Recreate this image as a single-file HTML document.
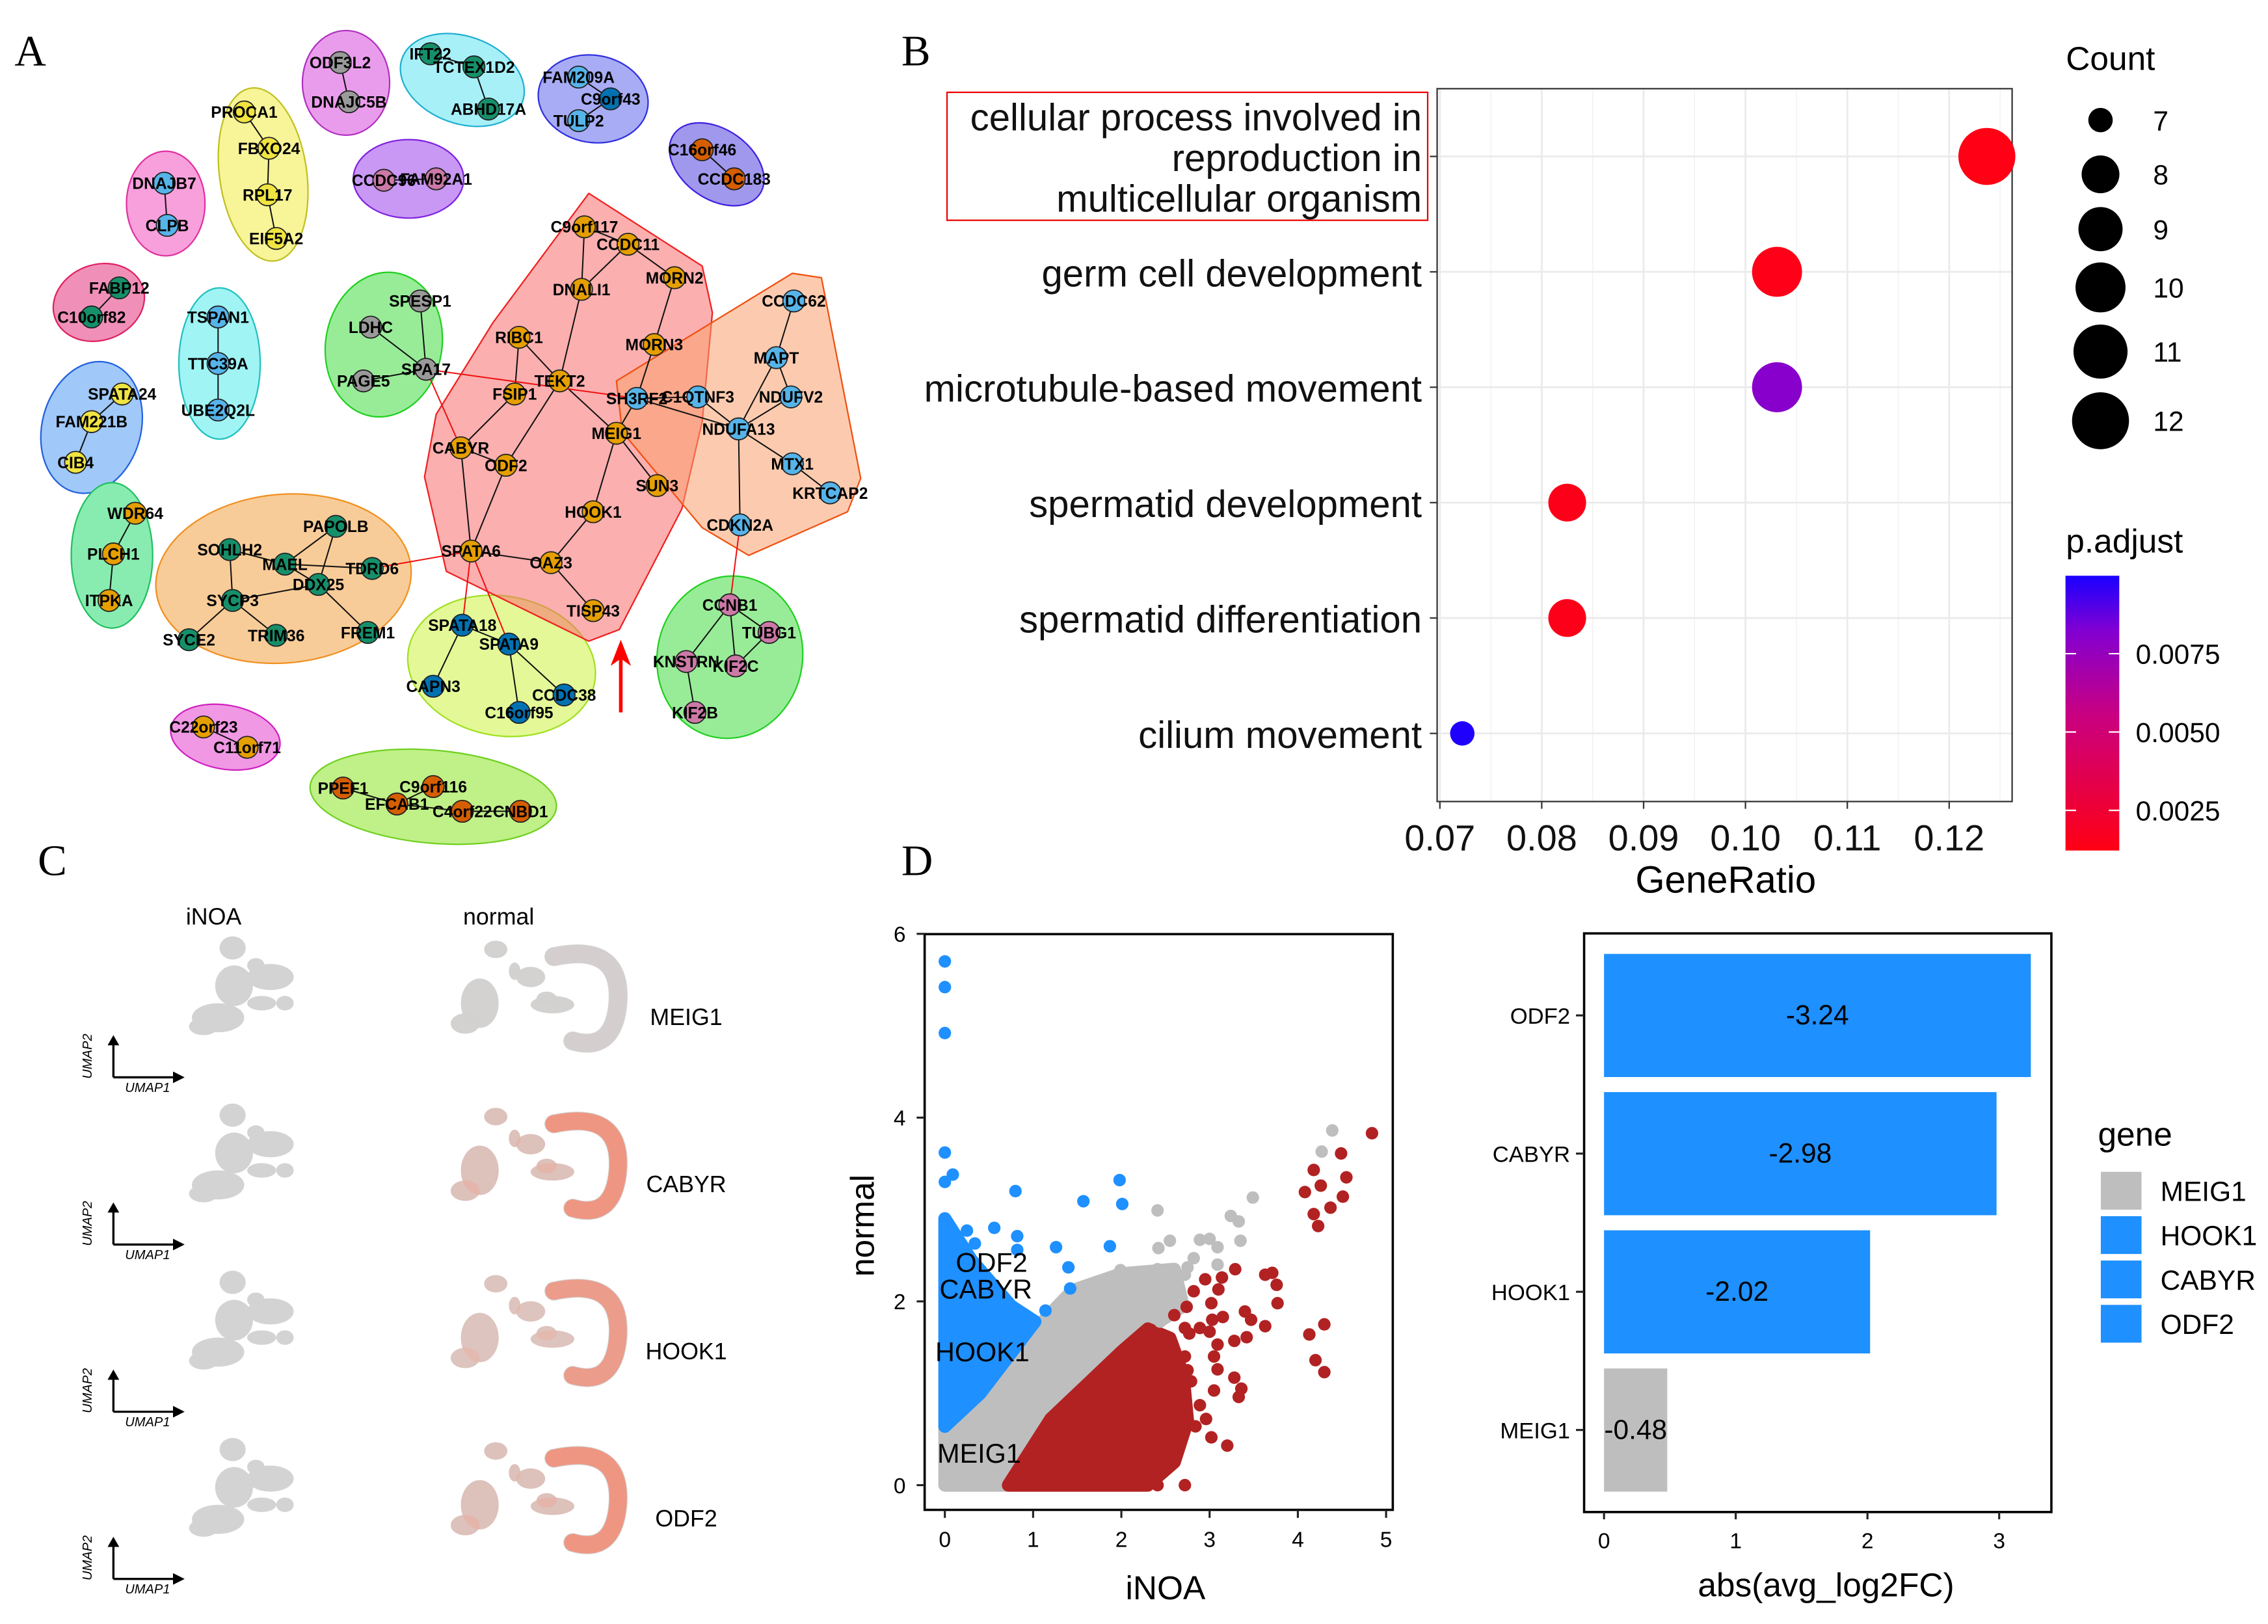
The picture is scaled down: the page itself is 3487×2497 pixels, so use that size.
<!DOCTYPE html>
<html><head><meta charset="utf-8"><style>
html,body{margin:0;padding:0;background:#fff}
svg{display:block}
text{font-family:"Liberation Sans",sans-serif}
</style></head><body>
<svg id="figroot" xmlns="http://www.w3.org/2000/svg" width="3487" height="2497" viewBox="0 0 1560 1117" preserveAspectRatio="none">
<rect width="1560" height="1117" fill="#fff"/>
<defs><linearGradient id="pgrad" x1="0" y1="1" x2="0" y2="0"><stop offset="0" stop-color="rgb(255,0,20)"/><stop offset="0.5" stop-color="rgb(200,0,130)"/><stop offset="0.8" stop-color="rgb(130,0,210)"/><stop offset="1" stop-color="rgb(25,0,255)"/></linearGradient></defs>
<g id="gNet"></g>
<g id="gDot"></g>
<g id="gUmap"></g>
<g id="gSc"></g>
<g id="gBar"></g>
<text x="10" y="45" font-size="30" style="font-family:'Liberation Serif',serif">A</text>
<text x="620" y="45" font-size="30" style="font-family:'Liberation Serif',serif">B</text>
<text x="26" y="602" font-size="30" style="font-family:'Liberation Serif',serif">C</text>
<text x="620" y="602" font-size="30" style="font-family:'Liberation Serif',serif">D</text>
</svg>
<script>
var SVGNS="http://www.w3.org/2000/svg";
function mk(p,tag,a,txt){
  var e=document.createElementNS(SVGNS,tag);
  for(var k in a){ e.setAttribute(k,String(a[k])); }
  if(txt!==undefined){ e.textContent=txt; }
  p.appendChild(e);
  return e;
}

/* ---------- Panel B data ---------- */
var goTerms=[["cellular process involved in","reproduction in","multicellular organism"],["germ cell development"],["microtubule-based movement"],["spermatid development"],["spermatid differentiation"],["cilium movement"]];
var goRatio=[0.1237,0.1031,0.1031,0.0825,0.0825,0.0722];
var goCount=[12,10,10,8,8,7];
var goPadj=[0.0012,0.0013,0.0080,0.0014,0.0014,0.0099];
var xTicksB=[0.07,0.08,0.09,0.10,0.11,0.12];
var cntLegend=[7,8,9,10,11,12];
var padjTicks=[0.0025,0.0050,0.0075];

/* ---------- Panel D scatter data ---------- */
var blueX=[0,0,0,0,0.09,0,0.8,1.57,1.98,2.01,0.25,0.56,0.82,1.26,1.87,1.4,1.42,1.14,0.34,0.82];
var blueY=[5.70,5.42,4.92,3.62,3.38,3.30,3.20,3.09,3.32,3.06,2.77,2.80,2.71,2.59,2.60,2.37,2.14,1.90,2.63,2.56];
var grayX=[2.41,3.49,3.24,3.33,2.55,2.42,2.89,3.0,3.09,3.35,2.82,2.75,3.09,2.41,1.99,2.11,2.41,2.58,2.55,4.39,4.27,1.17,2.44,2.72];
var grayY=[2.99,3.13,2.93,2.87,2.66,2.58,2.67,2.68,2.59,2.66,2.47,2.37,2.40,2.35,2.34,2.24,2.15,2.24,2.06,3.86,3.63,1.82,1.78,2.29];
var redX=[4.84,4.49,4.18,4.55,4.26,4.08,4.51,4.37,4.18,4.23,3.29,3.63,3.71,3.76,3.77,2.95,3.14,3.1,2.82,2.74,3.02,2.6,3.4,3.47,3.63,3.15,3.03,2.89,3.0,2.72,2.77,4.3,4.13,3.42,3.28,3.09,4.2,4.3,3.05,3.09,2.72,2.75,2.79,3.28,3.36,3.33,3.05,2.89,2.96,2.84,3.02,3.2,2.72,2.41,2.13,1.95,1.68,2.55,2.41,2.62];
var redY=[3.83,3.61,3.43,3.35,3.26,3.19,3.14,3.02,2.95,2.82,2.35,2.29,2.31,2.18,1.98,2.24,2.26,2.13,2.11,1.94,1.98,1.85,1.89,1.80,1.73,1.83,1.80,1.71,1.67,1.71,1.65,1.75,1.64,1.61,1.57,1.53,1.36,1.23,1.40,1.26,1.40,1.25,1.13,1.17,1.05,0.96,1.03,0.87,0.72,0.64,0.52,0.43,0.0,0.0,0.15,0.12,0.0,0.76,0.52,0.97];
var blueMass=[[0,0.64],[0,2.9],[0.3,2.45],[0.75,1.95],[1.02,1.78],[0.4,1.0]];
var grayMass=[[0,0],[0,0.64],[1.0,1.67],[1.45,2.12],[2.0,2.3],[2.6,2.35],[2.7,1.95],[2.3,1.7],[1.2,0.72],[0.7,0]];
var redMass=[[0.72,0],[1.2,0.72],[2.0,1.45],[2.3,1.7],[2.55,1.6],[2.7,1.2],[2.75,0.7],[2.6,0.25],[2.3,0]];
var scTicksX=[0,1,2,3,4,5];
var scTicksY=[0,2,4,6];
var scLabels=[["ODF2",0.124,2.32],["CABYR",-0.06,2.03],["HOOK1",-0.108,1.35],["MEIG1",-0.085,0.245]];

/* ---------- Panel D bar data ---------- */
var barGenes=["ODF2","CABYR","HOOK1","MEIG1"];
var barVals=[3.24,2.98,2.02,0.48];
var barLabels=["-3.24","-2.98","-2.02","-0.48"];
var barColor=["#1E90FF","#1E90FF","#1E90FF","#BEBEBE"];
var barTicks=[0,1,2,3];
var legendGenes=["MEIG1","HOOK1","CABYR","ODF2"];
var legendCols=["#BEBEBE","#1E90FF","#1E90FF","#1E90FF"];

/* ---------- Panel A ---------- */
function drawA(){
var P=document.getElementById('gNet');
var CL={o:"#E69F00",t:"#16906A",l:"#56B4E9",g:"#9A9A9A",y:"#F0E442",p:"#CC79A7",d:"#0072B2",r:"#D55E00"};
var hullsE=[[238,57,30,36,0,"#EA9CEC","#B030C0"],[318,55,44,30,20,"#A8F0F8","#20B0D0"],[408,68,38,30,10,"#A8ACF4","#3030E0"],[493,113,36,24,35,"#A098EC","#4020E0"],[281,123,38,27,0,"#C898F4","#8020E0"],[181,120,30,60,-8,"#F8F498","#C0C020"],[114,140,27,36,0,"#F8A0DC","#E030A0"],[68,208,32,26,-20,"#F090B8","#E02060"],[151,250,28,52,0,"#A0F4F4","#20C0C0"],[63,294,34,46,15,"#A0C8F8","#2060E0"],[77,382,28,50,0,"#88ECB0","#20C060"],[264,237,40,50,10,"#98EC98","#20D020"],[195,398,88,58,-5,"#F8CC98","#F09020"],[345,458,65,48,10,"#E4F898","#A0E020"],[502,452,50,56,10,"#98EC98","#20D020"],[155,507,38,22,10,"#F098E4","#D020C0"],[298,548,85,32,5,"#C0F088","#70D020"]];
hullsE.forEach(function(h){
  var e=mk(P,'ellipse',{cx:h[0],cy:h[1],rx:h[2],ry:h[3],transform:'rotate('+h[4]+' '+h[0]+' '+h[1]+')',fill:h[5],stroke:h[6],'stroke-width':1});
  
  
});
var hullP=[[[[405,133],[483,183],[490,215],[483,290],[469,350],[426,433],[405,441],[307,393],[292,328],[300,285],[339,222]],"rgba(248,110,110,0.55)","#F02020"],
 [[[424,262],[545,188],[565,191],[592,329],[583,352],[515,382],[483,363],[428,297]],"rgba(250,160,110,0.55)","#F05010"]];
hullP.forEach(function(h){
  var e=mk(P,'polygon',{points:h[0].map(function(p){return p.join(',');}).join(' '),fill:h[1],stroke:h[2],'stroke-width':1,'stroke-linejoin':'round'});
  
  
});
var nodes={ODF3L2:[234,43,'g'],DNAJC5B:[240,70,'g'],IFT22:[296,37,'t'],TCTEX1D2:[326,46,'t'],ABHD17A:[336,75,'t'],FAM209A:[398,53,'l'],C9orf43:[420,68,'d'],TULP2:[398,83,'l'],C16orf46:[483,103,'r'],CCDC183:[505,123,'r'],CCDC96:[264,124,'p'],FAM92A1:[300,123,'p'],
PROCA1:[168,77,'y'],FBXO24:[185,102,'y'],RPL17:[184,134,'y'],EIF5A2:[190,164,'y'],DNAJB7:[113,126,'l'],CLPB:[115,155,'l'],FABP12:[82,198,'t'],C10orf82:[63,218,'t'],TSPAN1:[150,218,'l'],TTC39A:[150,250,'l'],UBE2Q2L:[150,282,'l'],SPATA24:[84,271,'y'],FAM221B:[63,290,'y'],CIB4:[52,318,'y'],
SPESP1:[289,207,'g'],LDHC:[255,225,'g'],SPA17:[293,254,'g'],PAGE5:[250,262,'g'],WDR64:[93,353,'o'],PLCH1:[78,381,'o'],ITPKA:[75,413,'o'],
PAPOLB:[231,362,'t'],SOHLH2:[158,378,'t'],MAEL:[196,388,'t'],TDRD6:[256,391,'t'],DDX25:[219,402,'t'],SYCP3:[160,413,'t'],TRIM36:[190,437,'t'],FREM1:[253,435,'t'],SYCE2:[130,440,'t'],
SPATA18:[318,430,'d'],SPATA9:[350,443,'d'],CAPN3:[298,472,'d'],CCDC38:[388,478,'d'],C16orf95:[357,490,'d'],
CCNB1:[502,416,'p'],TUBG1:[529,435,'p'],KNSTRN:[472,455,'p'],KIF2C:[506,458,'p'],KIF2B:[478,490,'p'],C22orf23:[140,500,'o'],C11orf71:[170,514,'o'],
PPEF1:[236,542,'r'],C9orf116:[298,541,'r'],EFCAB1:[273,553,'r'],C4orf22:[318,558,'r'],CNBD1:[358,558,'r'],
C9orf117:[402,156,'o'],CCDC11:[432,168,'o'],MORN2:[464,191,'o'],DNALI1:[400,199,'o'],RIBC1:[357,232,'o'],MORN3:[450,237,'o'],TEKT2:[385,262,'o'],FSIP1:[354,271,'o'],MEIG1:[424,298,'o'],CABYR:[317,308,'o'],ODF2:[348,320,'o'],SUN3:[452,334,'o'],HOOK1:[408,352,'o'],SPATA6:[324,379,'o'],OAZ3:[379,387,'o'],TISP43:[408,420,'o'],
SH3RF2:[438,274,'l'],C1QTNF3:[480,273,'l'],NDUFV2:[544,273,'l'],CCDC62:[546,207,'l'],MAPT:[534,246,'l'],NDUFA13:[508,295,'l'],MTX1:[545,319,'l'],KRTCAP2:[571,339,'l'],CDKN2A:[509,361,'l']};
var edges=[["ODF3L2","DNAJC5B"],["IFT22","TCTEX1D2"],["TCTEX1D2","ABHD17A"],["FAM209A","C9orf43"],["C9orf43","TULP2"],["C16orf46","CCDC183"],["CCDC96","FAM92A1"],["PROCA1","FBXO24"],["FBXO24","RPL17"],["RPL17","EIF5A2"],["DNAJB7","CLPB"],["FABP12","C10orf82"],["TSPAN1","TTC39A"],["TTC39A","UBE2Q2L"],["SPATA24","FAM221B"],["FAM221B","CIB4"],["SPESP1","SPA17"],["LDHC","SPA17"],["PAGE5","SPA17"],["WDR64","PLCH1"],["PLCH1","ITPKA"],["PAPOLB","MAEL"],["SOHLH2","MAEL"],["MAEL","TDRD6"],["MAEL","DDX25"],["PAPOLB","DDX25"],["SOHLH2","SYCP3"],["SYCP3","DDX25"],["SYCP3","TRIM36"],["SYCP3","SYCE2"],["DDX25","FREM1"],["SPATA18","SPATA9"],["SPATA18","CAPN3"],["SPATA9","CCDC38"],["SPATA9","C16orf95"],["CCNB1","TUBG1"],["CCNB1","KNSTRN"],["CCNB1","KIF2C"],["TUBG1","KIF2C"],["KNSTRN","KIF2B"],["C22orf23","C11orf71"],["PPEF1","EFCAB1"],["C9orf116","EFCAB1"],["EFCAB1","C4orf22"],["C4orf22","CNBD1"],
["C9orf117","CCDC11"],["C9orf117","DNALI1"],["CCDC11","DNALI1"],["CCDC11","MORN2"],["MORN2","MORN3"],["DNALI1","TEKT2"],["RIBC1","FSIP1"],["RIBC1","TEKT2"],["TEKT2","MEIG1"],["TEKT2","ODF2"],["FSIP1","CABYR"],["CABYR","ODF2"],["CABYR","SPATA6"],["ODF2","SPATA6"],["MORN3","SH3RF2"],["SH3RF2","MEIG1"],["MEIG1","HOOK1"],["MEIG1","SUN3"],["HOOK1","OAZ3"],["SPATA6","OAZ3"],["OAZ3","TISP43"],
["CCDC62","MAPT"],["MAPT","NDUFV2"],["MAPT","NDUFA13"],["NDUFV2","NDUFA13"],["C1QTNF3","NDUFA13"],["SH3RF2","C1QTNF3"],["SH3RF2","NDUFA13"],["NDUFA13","MTX1"],["MTX1","KRTCAP2"],["NDUFA13","CDKN2A"]];
var redEdges=[["SPA17","SH3RF2"],["SPA17","CABYR"],["SPATA6","TDRD6"],["SPATA6","SPATA18"],["SPATA6","SPATA9"],["CDKN2A","CCNB1"]];
edges.forEach(function(ed){
  var a=nodes[ed[0]],b=nodes[ed[1]];
  if(!a||!b)return;
  var l=mk(P,'line',{x1:a[0],y1:a[1],x2:b[0],y2:b[1],stroke:'#111','stroke-width':0.9});
  
  
});
redEdges.forEach(function(ed){
  var a=nodes[ed[0]],b=nodes[ed[1]];
  if(!a||!b)return;
  var l=mk(P,'line',{x1:a[0],y1:a[1],x2:b[0],y2:b[1],stroke:'#F01010','stroke-width':0.9});
  
  
});
var k;
for(k in nodes){
  var n=nodes[k];
  var c=mk(P,'circle',{cx:n[0],cy:n[1],r:7.5,fill:CL[n[2]],stroke:'#222','stroke-width':0.8});
  
  
}
for(k in nodes){
  var n2=nodes[k];
  var t=mk(P,'text',{x:n2[0],y:n2[1]+4,'font-size':11,'font-weight':'bold','text-anchor':'middle',fill:'#000'},k);
  
  
}
var ag=mk(P,'g',{});


mk(ag,'line',{x1:427,y1:490,x2:427,y2:452,stroke:'#F00','stroke-width':2.5});
mk(ag,'polygon',{points:'427,440 420,458 427,453 434,458',fill:'#F00'});
}

/* ---------- Panel B ---------- */
function drawB(){
var P=document.getElementById('gDot');
var bx0=988.5,bx1=1384,by0=61,by1=551.3;
function xB(v){return 990.4+(v-0.07)*7006;}
function yB(i){return 107.6+i*79.37;}
var rTab=[8.4,13.0,15.2,17.2,18.6,19.6];
function rB(c){return rTab[Math.max(0,Math.min(5,c-7))];}
var stops=[[0,255,0,20],[0.5,200,0,130],[0.8,130,0,210],[1,25,0,255]];
function colB(p){
  var t=Math.min(1,Math.max(0,(p-0.0012)/0.0088));
  for(var i=1;i<stops.length;i++){
    if(t<=stops[i][0]){
      var a=stops[i-1],b=stops[i],f=(t-a[0])/(b[0]-a[0]);
      return 'rgb('+Math.round(a[1]+(b[1]-a[1])*f)+','+Math.round(a[2]+(b[2]-a[2])*f)+','+Math.round(a[3]+(b[3]-a[3])*f)+')';
    }
  }
  return 'rgb(25,0,255)';
}
mk(P,'rect',{x:bx0,y:by0,width:bx1-bx0,height:by1-by0,fill:'#fff'});
xTicksB.forEach(function(v){
  mk(P,'line',{x1:xB(v),x2:xB(v),y1:by0,y2:by1,stroke:'#EBEBEB','stroke-width':1.3});
  mk(P,'line',{x1:xB(v+0.005),x2:xB(v+0.005),y1:by0,y2:by1,stroke:'#F2F2F2','stroke-width':0.7});
});
goTerms.forEach(function(t,i){mk(P,'line',{x1:bx0,x2:bx1,y1:yB(i),y2:yB(i),stroke:'#EBEBEB','stroke-width':1.3});});
mk(P,'rect',{x:bx0,y:by0,width:bx1-bx0,height:by1-by0,fill:'none',stroke:'#333','stroke-width':1});
goTerms.forEach(function(t,i){
  var n=t.length;
  t.forEach(function(s,j){
    var tx=mk(P,'text',{x:978,y:yB(i)+10+(j-(n-1)/2)*28,'font-size':26,'text-anchor':'end',fill:'#111'},s);
    
    
  });
  mk(P,'line',{x1:bx0-5,x2:bx0,y1:yB(i),y2:yB(i),stroke:'#333'});
});
var rb=mk(P,'rect',{x:651.4,y:63.5,width:330.6,height:88,fill:'none',stroke:'#E00','stroke-width':1});


xTicksB.forEach(function(v){
  mk(P,'line',{x1:xB(v),x2:xB(v),y1:by1,y2:by1+5,stroke:'#333'});
  var t=mk(P,'text',{x:xB(v),y:585,'font-size':25,'text-anchor':'middle',fill:'#111'},v.toFixed(2));
  
  
});
var xt=mk(P,'text',{x:1187,y:614,'font-size':26,'text-anchor':'middle'},'GeneRatio');


goRatio.forEach(function(v,i){
  var c=mk(P,'circle',{cx:xB(v),cy:yB(i),r:rB(goCount[i]),fill:colB(goPadj[i])});
  
  
});
var ct=mk(P,'text',{x:1421,y:48,'font-size':23},'Count');


var cly=[82.6,119.9,157.6,197.7,241.8,289.4];
cntLegend.forEach(function(c,i){
  var e=mk(P,'circle',{cx:1444.8,cy:cly[i],r:rB(c),fill:'#000'});
  
  
  mk(P,'text',{x:1481,y:cly[i]+7,'font-size':19},String(c));
});
var pt=mk(P,'text',{x:1421,y:380,'font-size':23},'p.adjust');


var cb=mk(P,'rect',{x:1420.7,y:396,width:37,height:189,fill:'url(#pgrad)'});


function cbY(p){return 557.4-(p-0.0025)/0.0025*53.9;}
padjTicks.forEach(function(p){
  mk(P,'line',{x1:1420.7,x2:1428,y1:cbY(p),y2:cbY(p),stroke:'#fff'});
  mk(P,'line',{x1:1450.5,x2:1457.7,y1:cbY(p),y2:cbY(p),stroke:'#fff'});
  mk(P,'text',{x:1469,y:cbY(p)+7,'font-size':19},p.toFixed(4));
});
}

/* ---------- Panel C ---------- */
var umapGenes=["MEIG1","CABYR","HOOK1","ODF2"];
var umapExpr=[0.05,0.95,0.85,0.95];
function drawC(){
var P=document.getElementById('gUmap');
var t1=mk(P,'text',{x:147,y:636,'font-size':16,'text-anchor':'middle'},'iNOA');


var t2=mk(P,'text',{x:343,y:636,'font-size':16,'text-anchor':'middle'},'normal');


var inoaE=[[160,652,9,8],[161,678,13,14],[150,700,18,10],[186,672,16,9],[180,690,10,5],[196,690,6,5],[176,664,6,5],[140,706,10,6]];
var normE=[[341,653,8,6],[330,690,13,17],[320,704,10,7],[365,672,10,7],[376,687,7,5],[380,691,15,6],[354,668,4,6]];
var cres='M381,658 Q428,648 425,690 Q422,724 394,716';
umapGenes.forEach(function(g,r){
  var G=mk(P,'g',{transform:'translate(0 '+(r*115)+')'});
  
  
  inoaE.forEach(function(e){mk(G,'ellipse',{cx:e[0],cy:e[1],rx:e[2],ry:e[3],fill:'#D3D3D3'});});
  normE.forEach(function(e){mk(G,'ellipse',{cx:e[0],cy:e[1],rx:e[2],ry:e[3],fill:'#D3D3D3'});});
  mk(G,'path',{d:cres,fill:'none',stroke:'#D3D3D3','stroke-width':13,'stroke-linecap':'round'});
  var ex=umapExpr[r];
  mk(G,'path',{d:cres,fill:'none',stroke:'#F4876E','stroke-width':12,'stroke-linecap':'round',opacity:ex*0.85});
  normE.forEach(function(e){mk(G,'ellipse',{cx:e[0],cy:e[1],rx:e[2],ry:e[3],fill:'#F4A08C',opacity:ex*0.35});});
  mk(G,'line',{x1:78,y1:741,x2:78,y2:718,stroke:'#000','stroke-width':1.5});
  mk(G,'polygon',{points:'74,719 82,719 78,712',fill:'#000'});
  mk(G,'line',{x1:78,y1:741,x2:120,y2:741,stroke:'#000','stroke-width':1.5});
  mk(G,'polygon',{points:'119,737 119,745 127,741',fill:'#000'});
  mk(G,'text',{x:86,y:751,'font-size':9,'font-style':'italic'},'UMAP1');
  mk(G,'text',{x:63,y:742,'font-size':9,'font-style':'italic',transform:'rotate(-90 63 742)'},'UMAP2');
  var t=mk(G,'text',{x:472,y:705,'font-size':16,'text-anchor':'middle'},g);
  
  
});
}

/* ---------- Panel D scatter ---------- */
function xS(v){return 649.9+v*60.7;}
function yS(v){return 1021.5-v*63.2;}
function drawD(){
var P=document.getElementById('gSc');
mk(P,'rect',{x:636,y:642.5,width:322,height:396,fill:'#fff'});
function mass(pts,col,name){
  var p=mk(P,'polygon',{points:pts.map(function(q){return xS(q[0])+','+yS(q[1]);}).join(' '),fill:col,stroke:col,'stroke-width':9,'stroke-linejoin':'round'});
  
  
}
mass(grayMass,'#BEBEBE','gray-point-cloud');
mass(blueMass,'#1E90FF','blue-point-cloud');
mass(redMass,'#B22222','red-point-cloud');
function dots(X,Y,col){
  X.forEach(function(x,i){
    var c=mk(P,'circle',{cx:xS(x),cy:yS(Y[i]),r:4.3,fill:col});
    
    
  });
}
dots(grayX,grayY,'#BEBEBE');
dots(blueX,blueY,'#1E90FF');
dots(redX,redY,'#B22222');
mk(P,'rect',{x:636,y:642.5,width:322,height:396,fill:'none',stroke:'#000','stroke-width':1.6});
scLabels.forEach(function(l){
  var t=mk(P,'text',{x:xS(l[1]),y:yS(l[2]),'font-size':18.5},l[0]);
  
  
});
scTicksX.forEach(function(v){
  mk(P,'line',{x1:xS(v),x2:xS(v),y1:1038.6,y2:1044,stroke:'#222','stroke-width':1.4});
  mk(P,'text',{x:xS(v),y:1064,'font-size':15,'text-anchor':'middle'},String(v));
});
scTicksY.forEach(function(v){
  mk(P,'line',{x1:630.5,x2:636,y1:yS(v),y2:yS(v),stroke:'#222','stroke-width':1.4});
  mk(P,'text',{x:623,y:yS(v)+5.5,'font-size':15,'text-anchor':'end'},String(v));
});
var a=mk(P,'text',{x:xS(2.5),y:1100,'font-size':23,'text-anchor':'middle'},'iNOA');


var b=mk(P,'text',{x:601,y:843,'font-size':23,'text-anchor':'middle',transform:'rotate(-90 601 843)'},'normal');


}

/* ---------- Panel D bars ---------- */
function xR(v){return 1103.3+v*90.6;}
function yR(i){return 656.1+i*95.05;}
function drawE(){
var P=document.getElementById('gBar');
mk(P,'rect',{x:1089.6,y:642,width:321.4,height:398,fill:'#fff',stroke:'#000','stroke-width':1.6});
barVals.forEach(function(v,i){
  var r=mk(P,'rect',{x:xR(0),y:yR(i),width:xR(v)-xR(0),height:84.7,fill:barColor[i]});
  
  
  mk(P,'text',{x:xR(v/2),y:yR(i)+48.5,'font-size':19,'text-anchor':'middle'},barLabels[i]);
  mk(P,'line',{x1:1084,x2:1089.6,y1:yR(i)+42.3,y2:yR(i)+42.3,stroke:'#222','stroke-width':1.4});
  mk(P,'text',{x:1080,y:yR(i)+48,'font-size':15.5,'text-anchor':'end'},barGenes[i]);
});
barTicks.forEach(function(v){
  mk(P,'line',{x1:xR(v),x2:xR(v),y1:1040,y2:1045,stroke:'#222','stroke-width':1.4});
  mk(P,'text',{x:xR(v),y:1065,'font-size':15,'text-anchor':'middle'},String(v));
});
var a=mk(P,'text',{x:1256,y:1098,'font-size':23,'text-anchor':'middle'},'abs(avg_log2FC)');


var b=mk(P,'text',{x:1443,y:788,'font-size':23},'gene');


legendGenes.forEach(function(g,i){
  var r=mk(P,'rect',{x:1445,y:806+i*30.5,width:28,height:26,fill:legendCols[i]});
  
  
  mk(P,'text',{x:1486,y:826+i*30.5,'font-size':19},g);
});
}

[drawA,drawB,drawC,drawD,drawE].forEach(function(f){
  try{ f(); }catch(err){ if(window.console)console.log(err); }
});
</script>
</body></html>
